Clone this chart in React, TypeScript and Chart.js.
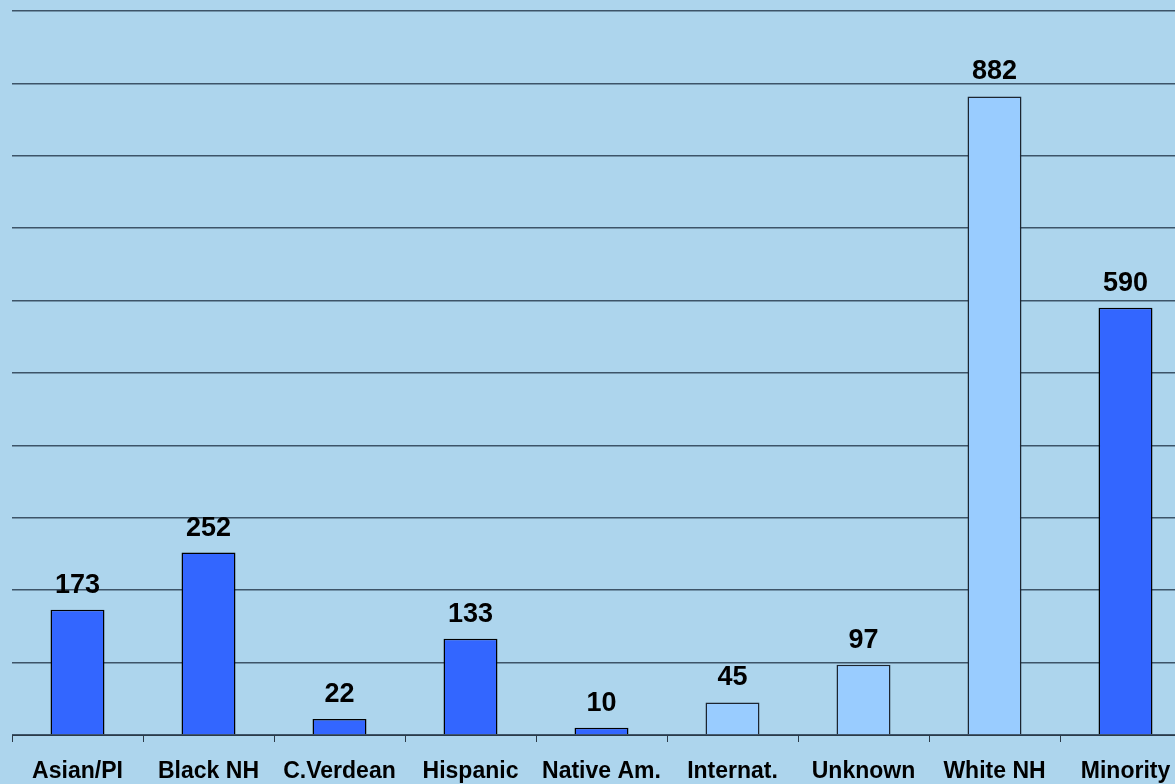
import React, { useEffect, useRef } from "react";
import { Chart, registerables } from "chart.js";

Chart.register(...registerables);

const categories = ["Asian/PI", "Black NH", "C.Verdean", "Hispanic", "Native Am.", "Internat.", "Unknown", "White NH", "Minority"];
const values = [173, 252, 22, 133, 10, 45, 97, 882, 590];
const DARK = "#3366FF";
const LIGHT = "#99CCFF";
const barColors = [DARK, DARK, DARK, DARK, DARK, LIGHT, LIGHT, LIGHT, DARK];
const borderColors = ["#000", "#000", "#000", "#000", "#000", "#1c2530", "#1c2530", "#1c2530", "#000"];

const FONT = "'Liberation Sans', Arial, sans-serif";

const valueLabels = {
  id: "valueLabels",
  afterDatasetsDraw(chart: any) {
    const ctx = chart.ctx;
    const meta = chart.getDatasetMeta(0);
    ctx.save();
    ctx.font = `bold 27px ${FONT}`;
    ctx.fillStyle = "#000";
    ctx.textAlign = "center";
    ctx.textBaseline = "alphabetic";
    meta.data.forEach((bar: any, i: number) => {
      ctx.fillText(String(values[i]), bar.x, bar.y - 17);
    });
    ctx.restore();
  },
};

export default function App() {
  const ref = useRef<HTMLCanvasElement | null>(null);
  useEffect(() => {
    const prevMargin = document.body.style.margin;
    document.body.style.margin = "0";
    const chart = new Chart(ref.current as HTMLCanvasElement, {
      type: "bar",
      data: {
        labels: categories,
        datasets: [
          {
            data: values,
            backgroundColor: barColors,
            borderColor: borderColors,
            borderWidth: 1.5,
            borderSkipped: "bottom",
            categoryPercentage: 1,
            barPercentage: 0.412,
          },
        ],
      },
      options: {
        responsive: false,
        animation: false,
        devicePixelRatio: 1,
        layout: { padding: { left: 12, top: 11, right: 9, bottom: 0 } },
        plugins: { legend: { display: false }, tooltip: { enabled: false } },
        scales: {
          x: {
            grid: {
              offset: true,
              drawOnChartArea: false,
              drawTicks: true,
              tickLength: 7,
              color: "#2b3a48",
              lineWidth: 1,
            },
            border: { display: true, color: "#2b3a48", width: 1 },
            ticks: {
              font: { family: FONT, size: 23, weight: "bold" },
              color: "#000",
              padding: 16,
              maxRotation: 0,
              autoSkip: false,
            },
            afterFit(scale: any) {
              scale.height = 49;
            },
          },
          y: {
            min: 0,
            max: 1000,
            ticks: { display: false, stepSize: 100 },
            grid: { color: "#3d5468", lineWidth: 1.5, drawTicks: false },
            border: { display: false },
            afterFit(scale: any) {
              scale.width = 0;
            },
          },
        },
      },
      plugins: [valueLabels],
    });
    return () => {
      chart.destroy();
      document.body.style.margin = prevMargin;
    };
  }, []);
  return (
    <div style={{ position: "fixed", left: 0, top: 0, width: 1175, height: 784, overflow: "hidden", background: "#ADD5ED" }}>
      <canvas ref={ref} width={1200} height={784} style={{ display: "block" }} />
    </div>
  );
}
